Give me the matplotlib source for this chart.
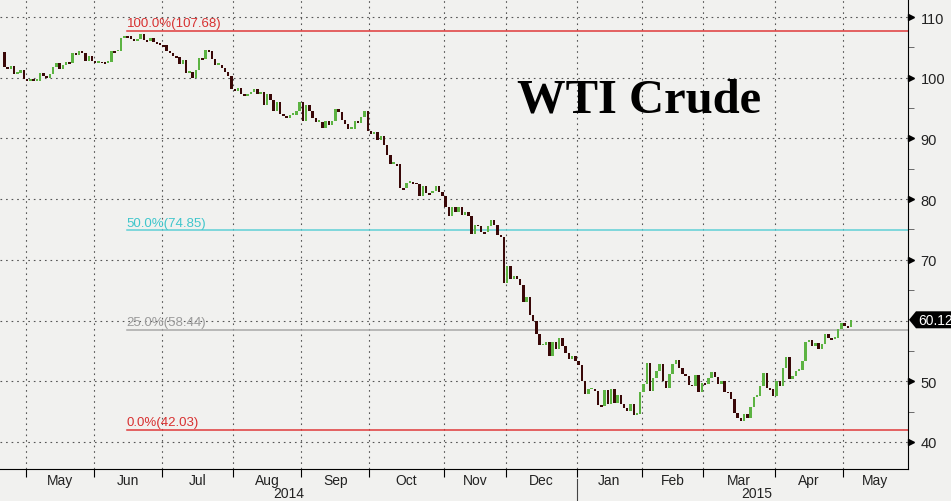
import numpy as np
import matplotlib
matplotlib.use('Agg')
import matplotlib.pyplot as plt
import matplotlib.ticker as ticker
from matplotlib.patches import Polygon

# daily closes, one list per month (trading days only)
first_open = 104.30
apr14 = [101.75, 101.44, 101.94, 100.60, 100.84, 101.28, 99.74]
may14 = [99.42, 99.76, 99.48, 99.50, 100.77, 100.26, 99.99, 100.59, 101.70, 102.37, 101.50,
         102.02, 102.61, 102.44, 104.07, 103.70, 104.35, 104.11, 102.72, 103.58, 102.71]
jun14 = [102.47, 102.66, 102.64, 102.48, 102.66, 104.41, 104.35, 104.40, 106.53, 106.91, 106.90,
         106.36, 105.97, 106.43, 107.26, 106.17, 106.03, 106.50, 105.84, 105.74, 105.37]
jul14 = [105.34, 104.48, 104.06, 103.53, 103.40, 102.29, 102.93, 100.83, 100.91, 99.96, 101.20,
         103.19, 103.13, 104.59, 104.42, 103.12, 102.07, 102.09, 101.67, 100.97, 100.27, 98.17]
aug14 = [97.88, 98.29, 97.38, 96.92, 97.34, 97.65, 98.08, 97.37, 97.59, 95.58, 97.35,
         96.41, 94.48, 96.07, 93.96, 93.65, 93.35, 93.86, 93.88, 94.55, 95.96]
sep14 = [92.88, 95.54, 94.45, 93.29, 92.66, 92.75, 91.67, 92.83, 92.27, 92.92, 94.88,
         94.42, 93.07, 92.41, 91.52, 91.56, 92.80, 92.53, 93.54, 94.57, 91.16]
oct14 = [90.73, 91.01, 89.74, 90.34, 88.85, 87.31, 85.77, 85.82, 85.74, 81.84, 81.78, 82.70,
         82.75, 82.71, 82.49, 80.52, 82.09, 81.01, 81.00, 81.42, 82.20, 81.12, 80.54]
nov14 = [78.78, 77.19, 78.68, 77.91, 78.65, 77.40, 77.94, 77.18, 74.21, 75.82, 75.64,
         74.61, 74.58, 75.58, 76.51, 75.78, 74.09, 73.69, 66.15]
dec14 = [69.00, 66.88, 67.38, 66.81, 65.84, 63.05, 63.82, 60.94, 59.95, 57.81, 55.91,
         55.93, 56.47, 54.11, 56.52, 55.26, 57.12, 55.84, 54.73, 53.61, 54.12, 53.27]
jan15 = [52.69, 50.04, 47.93, 48.65, 48.79, 48.36, 46.07, 45.89, 48.48, 46.25,
         48.69, 46.39, 47.78, 46.31, 45.59, 45.15, 46.23, 44.45, 44.53, 48.24]
feb15 = [49.57, 53.05, 48.45, 50.48, 51.69, 52.86, 50.02, 48.84, 51.21, 52.78,
         53.53, 52.14, 51.16, 50.81, 49.45, 49.25, 50.99, 48.17, 49.76]
mar15 = [49.59, 50.52, 51.53, 50.76, 49.61, 50.00, 48.29, 48.17, 47.05, 44.84, 43.88,
         43.46, 44.66, 43.96, 45.72, 47.45, 47.51, 49.21, 51.43, 48.87, 48.68, 47.60]
apr15 = [50.09, 49.14, 52.14, 53.98, 50.42, 50.79, 51.64, 51.91, 53.29, 56.39, 56.71,
         55.74, 56.38, 55.26, 56.16, 57.74, 57.15, 56.99, 57.06, 58.58, 59.63]
may15 = [59.15, 58.93, 60.12]

months = [apr14, may14, jun14, jul14, aug14, sep14, oct14, nov14, dec14, jan15, feb15, mar15, apr15, may15]
month_names = ['May', 'Jun', 'Jul', 'Aug', 'Sep', 'Oct', 'Nov', 'Dec', 'Jan', 'Feb', 'Mar', 'Apr', 'May']

yticks = [40, 50, 60, 70, 80, 90, 100, 110]
fib_levels = [107.68, 74.85, 58.44, 42.03]
fib_labels = ['100.0%(107.68)', '50.0%(74.85)', '25.0%(58.44)', '0.0%(42.03)']
fib_colors = ['#e03a3a', '#5fd0d6', '#a8a8a8', '#e03a3a']
fib_text_colors = ['#d83030', '#3fc6cc', '#9a9a9a', '#d83030']
last_price = 60.12

bg = '#f1f1ef'
up_col = '#5cb342'
dn_col = '#3a0808'
lab_font = 'Liberation Sans'

closes = np.concatenate([np.array(m) for m in months])
opens = np.concatenate([[first_open], closes[:-1]])
x = np.arange(len(closes))

counts = [len(m) for m in months]
bounds = np.cumsum(counts)[:-1] - 0.5   # month boundaries (first May ... last May)

fig = plt.figure(figsize=(9.51, 5.02), dpi=100, facecolor=bg)
ax = fig.add_axes([0, 32 / 502, 908 / 951, 470 / 502], facecolor=bg)

x_left = bounds[0] - 25.5 / 3.244
x_right = bounds[0] + 882.5 / 3.244
ax.set_xlim(x_left, x_right)
ax.set_ylim(35.54, 112.97)

# grid
for b in bounds:
    ax.axvline(b, color='#555555', lw=0.8, ls=(0, (1.5, 3.5)), zorder=0)
for v in yticks:
    ax.axhline(v, color='#555555', lw=0.8, ls=(0, (1.5, 3.5)), zorder=0)

# fib lines
fib_x0 = bounds[1] + 10.2
for lev, lab, c, tc in zip(fib_levels, fib_labels, fib_colors, fib_text_colors):
    ax.plot([fib_x0, x_right], [lev, lev], color=c, lw=1.1, zorder=1)
    ax.text(fib_x0, lev + 0.3, lab, color=tc, fontsize=9.5, ha='left', va='bottom',
            family=lab_font)

# candles
body = closes - opens
body = np.where(np.abs(body) < 0.3, np.sign(body + 1e-9) * 0.3, body)
colors = np.where(closes >= opens, up_col, dn_col)
ax.bar(x, body, bottom=opens, width=0.75, color=colors, linewidth=0, zorder=3)

ax.text(0.569, 0.76, 'WTI Crude', transform=ax.transAxes, fontsize=35, fontweight='bold',
        family='Liberation Serif', ha='left', va='baseline', color='black')

# axes styling
for s in ['top', 'left']:
    ax.spines[s].set_visible(False)
ax.spines['right'].set_color('black')
ax.spines['bottom'].set_color('black')

# the 60 label sits under the last-price tag, so it is left blank
ax.yaxis.tick_right()
ax.set_yticks(yticks)
ax.set_yticklabels(['' if v == 60 else str(v) for v in yticks], fontsize=10.5,
                   color='#222222', family=lab_font)
ax.yaxis.set_minor_locator(ticker.MultipleLocator(5))
ax.tick_params(axis='y', which='major', length=0, pad=9)
ax.tick_params(axis='y', which='minor', length=4, color='#555555', direction='out')
ytr = ax.get_yaxis_transform()
ax.plot([1.0035] * (len(yticks) - 1), [v for v in yticks if v != 60], marker='>',
        markersize=5, color='black', ls='none', transform=ytr, clip_on=False)

# last price tag, drawn in pixels next to the spine
fig.canvas.draw()
px_r = ax.transAxes.transform((1, 0))[0]
py = ax.transData.transform((0, last_price))[1]
tag = Polygon([[px_r + 1, py], [px_r + 8, py + 8.5], [951, py + 8.5], [951, py - 8.5],
               [px_r + 8, py - 8.5]], closed=True, transform=None, fc='black', ec='none',
              zorder=5)
fig.patches.append(tag)
fig.text((px_r + 10) / 951, py / 502, '%.2f' % last_price, color='white', fontsize=10,
         ha='left', va='center', family=lab_font, zorder=6)

# x axis: month boundaries as ticks, names centred in the month
ax.set_xticks(bounds)
ax.set_xticklabels([])
ax.tick_params(axis='x', which='major', length=6, color='black', direction='out')
centers = list((bounds[:-1] + bounds[1:]) / 2) + [(bounds[-1] + x_right) / 2]
ax.set_xticks(centers, minor=True)
ax.set_xticklabels(month_names, minor=True, fontsize=10, color='#222222', family=lab_font)
ax.tick_params(axis='x', which='minor', length=0, pad=3)

xtr = ax.get_xaxis_transform()
jan_b = bounds[8]
ax.text((x_left + jan_b) / 2, -0.052, '2014', transform=xtr, ha='center', va='center',
        fontsize=10, color='#222222', family=lab_font)
ax.text(232, -0.052, '2015', transform=xtr, ha='center', va='center',
        fontsize=10, color='#222222', family=lab_font)
ax.plot([jan_b, jan_b], [-0.022, -0.07], color='#444444', lw=0.8, transform=xtr, clip_on=False)

fig.savefig('out.png', dpi=100, facecolor=bg)
